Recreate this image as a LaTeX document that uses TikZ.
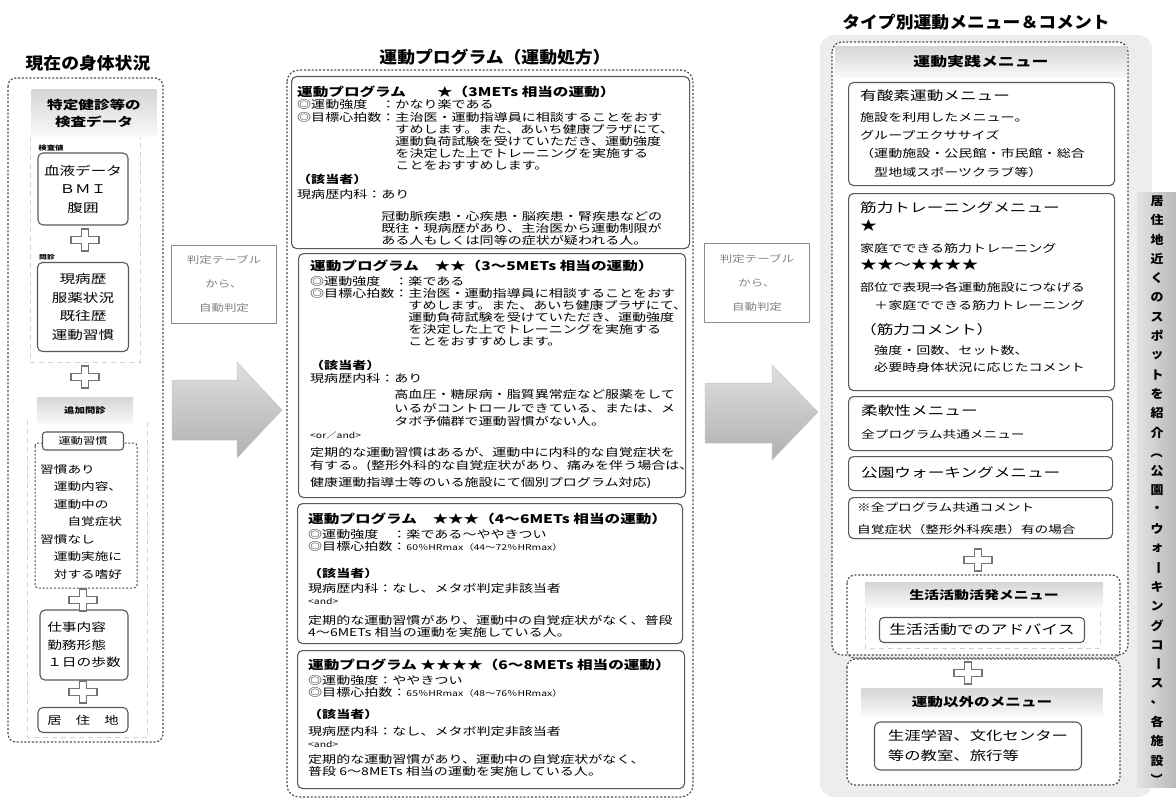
\documentclass[tikz,border=0pt]{standalone}
\usepackage{fontspec}
\newfontfamily\jp[FakeStretch=1.3]{Noto Sans CJK JP}
\newfontfamily\jpt[FakeStretch=1.08]{Noto Sans CJK JP}
\usepackage{tikz}
\usetikzlibrary{calc}
\usetikzlibrary{positioning}
\newcommand{\prghead}{\fontsize{12}{13}\selectfont\bfseries}
\newcommand{\smalltag}{\fontsize{8}{9}\selectfont}
\newcommand{\rhead}{\fontsize{12.8}{14}\selectfont}

\begin{document}
\begin{tikzpicture}[x=1pt,y=-1pt,
    ttl/.style={font=\jpt\bfseries\fontsize{16.5}{18}\selectfont, inner sep=0pt},
    dotbox/.style={draw=black!70, line width=1.2pt, dash pattern=on 2pt off 1.8pt, rounded corners=8pt},
    box/.style={draw=black!65, line width=1.1pt, rounded corners=5pt, fill=white, inner sep=0pt},
    faint/.style={draw=gray!35, line width=0.8pt, dash pattern=on 5pt off 4pt},
    hdr/.style={top color=gray!32, bottom color=gray!5, inner sep=0pt},
    body/.style={inner sep=0pt, align=left, font=\jp\fontsize{10.8}{12}\selectfont},
    rbody/.style={inner sep=0pt, align=left, font=\jp\fontsize{10.8}{18.3}\selectfont},
    plusmk/.style={fill=white, draw=black!55, line width=1.1pt},
    judge/.style={draw=black!45, line width=1pt, inner sep=0pt, align=center, text=black!50, font=\jp\fontsize{9.6}{24}\selectfont},
    bigarrow/.style={top color=gray!25, bottom color=gray!62, draw=gray!45, line width=0.5pt},
    sidech/.style={font=\jpt\bfseries\fontsize{12}{13}\selectfont, inner sep=0pt}
]
\useasboundingbox (0,0) rectangle (1176,800);

% left column
\node[ttl] (tl) at (88,63) {現在の身体状況};
\draw[dotbox] (8,78) rectangle (163,742);
\draw[faint] (30,137) -- (30,362) -- (140,362) -- (140,137);
\draw[faint] (27,420) -- (27,737) -- (147,737) -- (147,420);
\node[hdr, minimum width=125pt, minimum height=46pt, align=center, font=\jp\bfseries\fontsize{12}{17}\selectfont] (kensa) at (94,113) {特定健診等の\\検査データ};
\node[font=\jp\bfseries\fontsize{6.5}{8}\selectfont, inner sep=0pt] (kensachi) at (51,148) {検査値};
\node[box, minimum width=90pt, minimum height=72pt, align=center, font=\jp\fontsize{12}{18.5}\selectfont] (ketsu) at (83,189) {血液データ\\ＢＭＩ\\腹囲};
\node[font=\jp\bfseries\fontsize{6}{8}\selectfont, inner sep=0pt] (monlab) at (47,257) {問診};
\node[box, minimum width=91pt, minimum height=89pt, align=center, font=\jp\fontsize{12}{18.5}\selectfont] (monshin) at (83,307) {現病歴\\服薬状況\\既往歴\\運動習慣};
\node[hdr, minimum width=96pt, minimum height=26pt, font=\jp\bfseries\fontsize{8}{10}\selectfont] (tsuika) at (85,410) {追加問診};
\draw[dotbox, rounded corners=3pt, line width=1pt] (35,443) rectangle (137,588);
\node[box, minimum width=81pt, minimum height=18pt, rounded corners=3pt, font=\jp\fontsize{9.5}{11}\selectfont] (shukan) at (83,441) {運動習慣};
\node[body, anchor=north west, font=\jp\fontsize{10.5}{17.5}\selectfont] (shukantxt) at (40,464) {習慣あり\\　運動内容、\\　運動中の\\　　自覚症状\\習慣なし\\　運動実施に\\　対する嗜好};
\node[box, minimum width=88pt, minimum height=70pt, align=left, font=\jp\fontsize{11.3}{17.5}\selectfont] (shigoto) at (84,645) {仕事内容\\勤務形態\\１日の歩数};
\node[box, minimum width=90pt, minimum height=25pt, font=\jp\fontsize{11}{12}\selectfont] (kyoju) at (83,720) {居　住　地};

% judgement and arrows
\node[judge, minimum width=105pt, minimum height=78pt] (hantei1) at (224,284) {判定テーブル\\から、\\自動判定};
\node[judge, minimum width=105pt, minimum height=79pt] (hantei2) at (757,283) {判定テーブル\\から、\\自動判定};
\draw[bigarrow] (172,380) -- (237,380) -- (237,362) -- (282,410) -- (237,458) -- (237,440) -- (172,440) -- cycle;
\draw[bigarrow] (705,383) -- (772,383) -- (772,365) -- (818,412) -- (772,460) -- (772,443) -- (705,443) -- cycle;

% middle column
\node[ttl] (tm) at (495,57) {運動プログラム（運動処方）};
\draw[dotbox, rounded corners=12pt] (287,70) rectangle (693,797);
\node[box, anchor=north west, minimum width=398pt, minimum height=172pt] (p1) at (291,76) {};
\node[box, anchor=north west, minimum width=387pt, minimum height=244pt] (p2) at (298,253) {};
\node[box, anchor=north west, minimum width=385pt, minimum height=140pt] (p3) at (297,503) {};
\node[box, anchor=north west, minimum width=387pt, minimum height=138pt] (p4) at (297,650) {};

\node[body, below right=10pt and 6pt of p1.north west] (p1t) {%
{\prghead 運動プログラム　　★（3METs 相当の運動）}\\[0pt]
◎運動強度　：かなり楽である\\[1pt]
◎目標心拍数：主治医・運動指導員に相談することをおす\\
　　　　　　　すめします。また、あいち健康プラザにて、\\
　　　　　　　運動負荷試験を受けていただき、運動強度\\
　　　　　　　を決定した上でトレーニングを実施する\\
　　　　　　　ことをおすすめします。\\[2pt]
{\bfseries （該当者）}\\[3pt]
現病歴内科：あり\\[10pt]
　　　　　　冠動脈疾患・心疾患・脳疾患・腎疾患などの\\
　　　　　　既往・現病歴があり、主治医から運動制限が\\
　　　　　　ある人もしくは同等の症状が疑われる人。};

\node[body, below right=7pt and 12pt of p2.north west] (p2t) {%
{\prghead 運動プログラム　★★（3〜5METs 相当の運動）}\\[3pt]
◎運動強度　：楽である\\
◎目標心拍数：主治医・運動指導員に相談することをおす\\
　　　　　　　すめします。また、あいち健康プラザにて、\\
　　　　　　　運動負荷試験を受けていただき、運動強度\\
　　　　　　　を決定した上でトレーニングを実施する\\
　　　　　　　ことをおすすめします。\\[12pt]
{\bfseries （該当者）}\\[1pt]
現病歴内科：あり\\[4pt]
　　　　　　高血圧・糖尿病・脂質異常症など服薬をして\\[2pt]
　　　　　　いるがコントロールできている、または、メ\\[1pt]
　　　　　　タボ予備群で運動習慣がない人。\\[1pt]
{\smalltag <or／and>}\\[6pt]
定期的な運動習慣はあるが、運動中に内科的な自覚症状を\\[1pt]
有する。(整形外科的な自覚症状があり、痛みを伴う場合は、\\[5pt]
健康運動指導士等のいる施設にて個別プログラム対応)};

\node[body, below right=10pt and 11pt of p3.north west] (p3t) {%
{\prghead 運動プログラム　★★★（4〜6METs 相当の運動）}\\[3pt]
◎運動強度　：楽である〜ややきつい\\
◎目標心拍数：{\smalltag 60％HRmax（44〜72％HRmax）}\\[15pt]
{\bfseries （該当者）}\\[3pt]
現病歴内科：なし、メタボ判定非該当者\\
{\smalltag <and>}\\[8pt]
定期的な運動習慣があり、運動中の自覚症状がなく、普段\\
4〜6METs 相当の運動を実施している人。};

\node[body, below right=9pt and 11pt of p4.north west] (p4t) {%
{\prghead 運動プログラム ★★★★（6〜8METs 相当の運動）}\\[3pt]
◎運動強度：ややきつい\\
◎目標心拍数：{\smalltag 65％HRmax（48〜76％HRmax）}\\[10pt]
{\bfseries （該当者）}\\[5pt]
現病歴内科：なし、メタボ判定非該当者\\
{\smalltag <and>}\\[4pt]
定期的な運動習慣があり、運動中の自覚症状がなく、\\
普段 6〜8METs 相当の運動を実施している人。};

% right column
\node[ttl] (tr) at (976,22) {タイプ別運動メニュー＆コメント};
\fill[gray!14, rounded corners=14pt] (820,35) rectangle (1152,797);
\shade[left color=gray!22, right color=gray!55] (1137,192) rectangle (1176,787);
\foreach \c [count=\i from 0] in {居,住,地,近,く,の,ス,ポ,ッ,ト,を,紹,介,{\rotatebox{-90}{（}},公,園,・,ウ,ォ,{\rotatebox{-90}{ー}},キ,ン,グ,コ,{\rotatebox{-90}{ー}},ス,、,各,施,設,{\rotatebox{-90}{）}}}
    \node[sidech] (sd\i) at (1157,{201+19.3*\i}) {\c};
\draw[dotbox, fill=white, rounded corners=10pt] (832,42) rectangle (1128,655);
\node[hdr, minimum width=292pt, minimum height=31pt, font=\jp\bfseries\fontsize{13}{14}\selectfont] (jissen) at (981,62) {運動実践メニュー};

\node[box, anchor=north west, minimum width=266pt, minimum height=103pt] (r1) at (848,82) {};
\node[box, anchor=north west, minimum width=266pt, minimum height=197pt] (r2) at (848,193) {};
\node[box, anchor=north west, minimum width=264pt, minimum height=54pt] (r3) at (848,396) {};
\node[box, anchor=north west, minimum width=264pt, minimum height=34pt] (r4) at (848,456) {};
\node[box, anchor=north west, minimum width=264pt, minimum height=41pt] (r5) at (848,497) {};

\node[rbody, below right=8pt and 12pt of r1.north west] (r1t) {%
{\rhead 有酸素運動メニュー}\\[2pt]
施設を利用したメニュー。\\
グループエクササイズ\\
（運動施設・公民館・市民館・総合\\
　型地域スポーツクラブ等）};
\node[rbody, below right=8pt and 12pt of r2.north west] (r2t) {%
{\rhead 筋力トレーニングメニュー}\\
{\fontsize{13}{14}\selectfont ★}\\[4pt]
家庭でできる筋力トレーニング\\[-1pt]
{\fontsize{13}{14}\selectfont ★★〜★★★★}\\[3pt]
部位で表現⇒各運動施設につなげる\\
　＋家庭でできる筋力トレーニング\\[7pt]
{\rhead （筋力コメント）}\\[1pt]
　強度・回数、セット数、\\[-1pt]
　必要時身体状況に応じたコメント};
\node[rbody, below right=9pt and 13pt of r3.north west, font=\jp\fontsize{10.5}{23}\selectfont] (r3t) {%
{\rhead 柔軟性メニュー}\\
全プログラム共通メニュー};
\node[inner sep=0pt, anchor=west, font=\jp\rhead] (r4t) at (861,473) {公園ウォーキングメニュー};
\node[rbody, below right=5pt and 9pt of r5.north west, font=\jp\fontsize{10.5}{22}\selectfont] (r5t) {%
※全プログラム共通コメント\\
自覚症状（整形外科疾患）有の場合};

\draw[dotbox] (847,575) rectangle (1120,658);
\draw[faint] (865,608) -- (865,648) -- (1100,648) -- (1100,608);
\node[hdr, minimum width=238pt, minimum height=25pt, font=\jp\bfseries\fontsize{11.5}{13}\selectfont] (katsudo) at (984,595) {生活活動活発メニュー};
\node[box, minimum width=205pt, minimum height=25pt, rounded corners=4pt, font=\jp\fontsize{13}{14}\selectfont] (advice) at (982,630) {生活活動でのアドバイス};
\draw[dotbox, fill=white] (847,659) rectangle (1120,785);
\node[hdr, minimum width=241pt, minimum height=27pt, font=\jp\bfseries\fontsize{12}{13}\selectfont] (igai) at (982,702) {運動以外のメニュー};
\node[box, minimum width=207pt, minimum height=48pt, rounded corners=6pt, align=left, font=\jp\fontsize{12.6}{20}\selectfont] (gakushu) at (978,746) {生涯学習、文化センター\\等の教室、旅行等};

% plus signs
\foreach \px/\py in {85/240, 85/377, 83/600, 83/692, 978/560, 968/673}
    \draw[plusmk] (\px,\py) ++(-3.5,-11) -- ++(7,0) -- ++(0,7.5) -- ++(10.5,0) -- ++(0,7) -- ++(-10.5,0) -- ++(0,7.5) -- ++(-7,0) -- ++(0,-7.5) -- ++(-10.5,0) -- ++(0,-7) -- ++(10.5,0) -- cycle;
\end{tikzpicture}
\end{document}
